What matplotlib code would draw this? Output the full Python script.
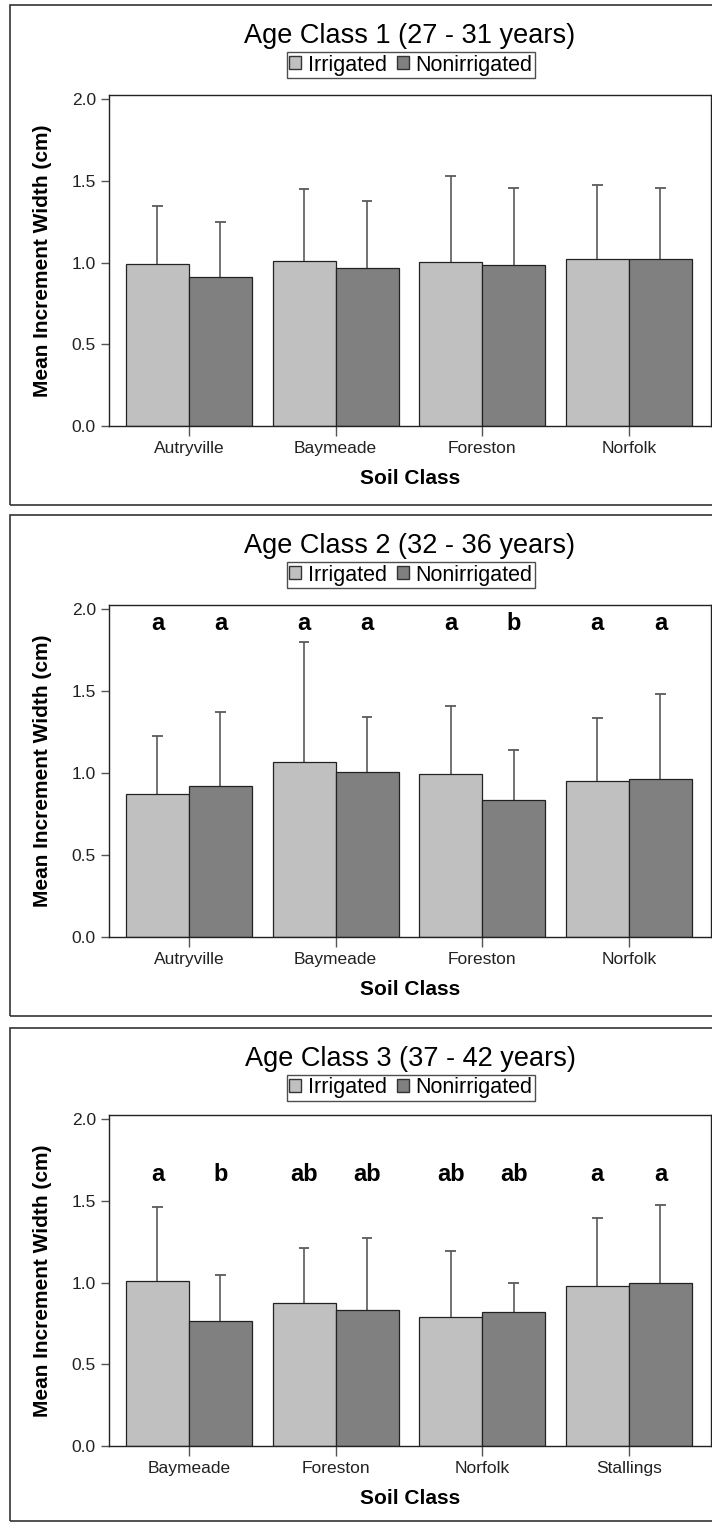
import numpy as np
import matplotlib.pyplot as plt
from matplotlib.patches import Patch, Rectangle

plt.rcParams['font.family'] = ['Liberation Sans', 'DejaVu Sans']

titles = ['Age Class 1 (27 - 31 years)', 'Age Class 2 (32 - 36 years)', 'Age Class 3 (37 - 42 years)']

soils_1 = ['Autryville', 'Baymeade', 'Foreston', 'Norfolk']
irr_1 = [0.99, 1.01, 1.005, 1.02]
irr_top_1 = [1.345, 1.45, 1.53, 1.474]
non_1 = [0.91, 0.965, 0.985, 1.02]
non_top_1 = [1.25, 1.375, 1.456, 1.456]
letters_irr_1 = None
letters_non_1 = None

soils_2 = ['Autryville', 'Baymeade', 'Foreston', 'Norfolk']
irr_2 = [0.871, 1.067, 0.995, 0.95]
irr_top_2 = [1.227, 1.80, 1.41, 1.335]
non_2 = [0.92, 1.006, 0.835, 0.965]
non_top_2 = [1.374, 1.344, 1.14, 1.48]
letters_irr_2 = ['a', 'a', 'a', 'a']
letters_non_2 = ['a', 'a', 'b', 'a']

soils_3 = ['Baymeade', 'Foreston', 'Norfolk', 'Stallings']
irr_3 = [1.01, 0.875, 0.79, 0.98]
irr_top_3 = [1.46, 1.21, 1.195, 1.395]
non_3 = [0.765, 0.83, 0.82, 1.0]
non_top_3 = [1.045, 1.27, 0.995, 1.475]
letters_irr_3 = ['a', 'ab', 'ab', 'a']
letters_non_3 = ['b', 'ab', 'ab', 'a']

letter_y = [None, 1.91, 1.66]

panels = [
    (soils_1, irr_1, irr_top_1, non_1, non_top_1, letters_irr_1, letters_non_1),
    (soils_2, irr_2, irr_top_2, non_2, non_top_2, letters_irr_2, letters_non_2),
    (soils_3, irr_3, irr_top_3, non_3, non_top_3, letters_irr_3, letters_non_3),
]

W, H = 712, 1523
fig = plt.figure(figsize=(W / 100, H / 100), dpi=100)

# pixel layout of the three boxes and plot areas
frames = [(5, 505), (515, 1016), (1028, 1521)]
ax_tops = [95, 605, 1115]
ax_bots = [426, 937, 1446]

c_irr = '#c0c0c0'
c_non = '#808080'
c_err = '#5a5a5a'
bw = 0.43
cap = 0.036

for i, (soils, irr, irr_top, non, non_top, lirr, lnon) in enumerate(panels):
    ft, fb = frames[i]
    fig.patches.append(Rectangle((10 / W, 1 - fb / H), 705 / W, (fb - ft) / H,
                                 transform=fig.transFigure, fill=False,
                                 edgecolor='#333333', linewidth=1.2))
    ax = fig.add_axes([109 / W, 1 - ax_bots[i] / H, (711 - 109) / W,
                       (ax_bots[i] - ax_tops[i]) / H])
    x = np.arange(len(soils))
    xi = x - bw / 2
    xn = x + bw / 2
    ax.bar(xi, irr, bw, color=c_irr, edgecolor='#222222', linewidth=0.9, zorder=2)
    ax.bar(xn, non, bw, color=c_non, edgecolor='#222222', linewidth=0.9, zorder=2)
    # upper error bars only
    ax.vlines(xi, irr, irr_top, color=c_err, linewidth=1.2, zorder=1)
    ax.vlines(xn, non, non_top, color=c_err, linewidth=1.2, zorder=1)
    ax.hlines(irr_top, xi - cap, xi + cap, color=c_err, linewidth=1.3)
    ax.hlines(non_top, xn - cap, xn + cap, color=c_err, linewidth=1.3)
    if lirr is not None:
        for j in range(len(x)):
            ax.text(xi[j], letter_y[i], lirr[j], ha='center', va='center',
                    fontsize=17, fontweight='bold')
            ax.text(xn[j], letter_y[i], lnon[j], ha='center', va='center',
                    fontsize=17, fontweight='bold')
    ax.set_xlim(-0.545, len(x) - 1 + 0.56)
    ax.set_ylim(0, 2.025)
    ax.set_yticks([0, 0.5, 1.0, 1.5, 2.0])
    ax.set_yticklabels(['0.0', '0.5', '1.0', '1.5', '2.0'])
    ax.set_xticks(x)
    ax.set_xticklabels(soils)
    ax.tick_params(axis='both', labelsize=12.5, color='#555555', length=6, width=1,
                   labelcolor='#222222')
    ax.tick_params(axis='x', length=7, pad=4)
    for s in ax.spines.values():
        s.set_color('#222222')
        s.set_linewidth(1.0)
    ax.set_xlabel('Soil Class', fontsize=15, fontweight='bold', labelpad=9)
    ax.set_ylabel('Mean Increment Width (cm)', fontsize=15, fontweight='bold', labelpad=14)

    fig.text(410 / W, 1 - (ft + 31) / H, titles[i], ha='center', va='center', fontsize=19.5)
    handles = [Patch(facecolor=c_irr, edgecolor='#333333', label='Irrigated'),
               Patch(facecolor=c_non, edgecolor='#333333', label='Nonirrigated')]
    leg = fig.legend(handles=handles, loc='center', ncol=2,
                     bbox_to_anchor=(411 / W, 1 - (ft + 60) / H),
                     fontsize=15.5, frameon=True, fancybox=False, handlelength=0.55,
                     handleheight=0.55, handletextpad=0.3, columnspacing=0.5,
                     borderpad=0.12, borderaxespad=0)
    leg.get_frame().set_edgecolor('#222222')
    leg.get_frame().set_linewidth(1.0)

fig.savefig('out.png', dpi=100)
